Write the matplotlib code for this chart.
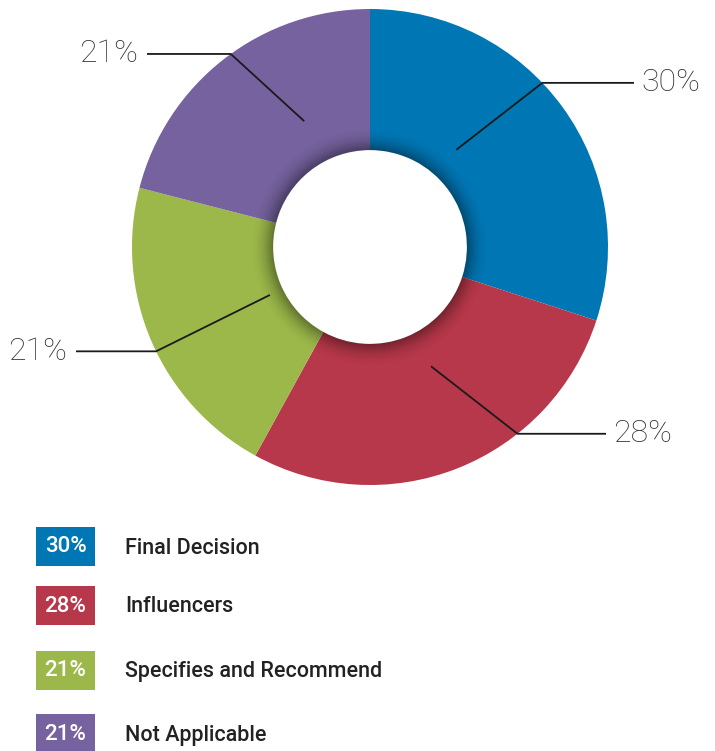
import numpy as np
import matplotlib.pyplot as plt
from matplotlib.patches import Wedge, Rectangle

# data
labels = ["Final Decision", "Influencers", "Specifies and Recommend", "Not Applicable"]
values = [30, 28, 21, 21]
pct_text = ["30%", "28%", "21%", "21%"]
colors = ["#0077b5", "#b7384a", "#9cb84a", "#75629e"]

W, H = 715, 751
fig = plt.figure(figsize=(W / 100, H / 100), dpi=100)
ax = fig.add_axes([0, 0, 1, 1])

cx, cy = 370, H - 247
R, r_in = 238, 97

wedges, _ = ax.pie(values, colors=colors, startangle=90, counterclock=False,
                   radius=R, center=(cx, cy),
                   wedgeprops=dict(width=R - r_in, linewidth=0))

# soft inner shadow around the hole
n = 22
for k in range(n):
    a = 0.32 * (1 - k / n) ** 2
    ax.add_patch(Wedge((cx, cy), r_in + k + 1, 0, 360, width=1.2,
                       facecolor="black", alpha=a, linewidth=0))

# leader lines: (elbow angle, inner angle, inner radius, line end x, label side)
leaders = [(43.6, 48.4, 130, 634, "left"),
           (-51.7, -62.9, 134, 606, "left"),
           (206.0, 205.6, 111, 76, "right"),
           (125.8, 117.6, 142, 147, "right")]
for (ae, ai, ri, xend, side), t in zip(leaders, pct_text):
    ex = cx + R * np.cos(np.radians(ae))
    ey = cy + R * np.sin(np.radians(ae))
    ix = cx + ri * np.cos(np.radians(ai))
    iy = cy + ri * np.sin(np.radians(ai))
    ax.plot([ix, ex, xend], [iy, ey, ey], color="#1a1a1a", lw=1.3,
            solid_capstyle="butt", zorder=5)
    tx = xend + 7 if side == "left" else xend - 9
    ax.text(tx, ey, t, ha=side, va="center", fontsize=23, color="#333333",
            family="Roboto", fontweight="light")

# legend boxes
box_tops = [527, 586, 651, 714]
for top, c, t, lab in zip(box_tops, colors, pct_text, labels):
    ax.add_patch(Rectangle((36, H - top - 39), 59, 39, facecolor=c, linewidth=0))
    ax.text(65.5, H - top - 20, t, ha="center", va="center", fontsize=16,
            color="white", family="Roboto", fontweight="medium")
    ax.text(125, H - top - 21, lab, ha="left", va="center", fontsize=15.5,
            color="#222222", family="Roboto", fontweight="medium")

ax.set_xlim(0, W)
ax.set_ylim(0, H)
ax.set_aspect("equal")
ax.axis("off")

fig.savefig("out.png", dpi=100)
